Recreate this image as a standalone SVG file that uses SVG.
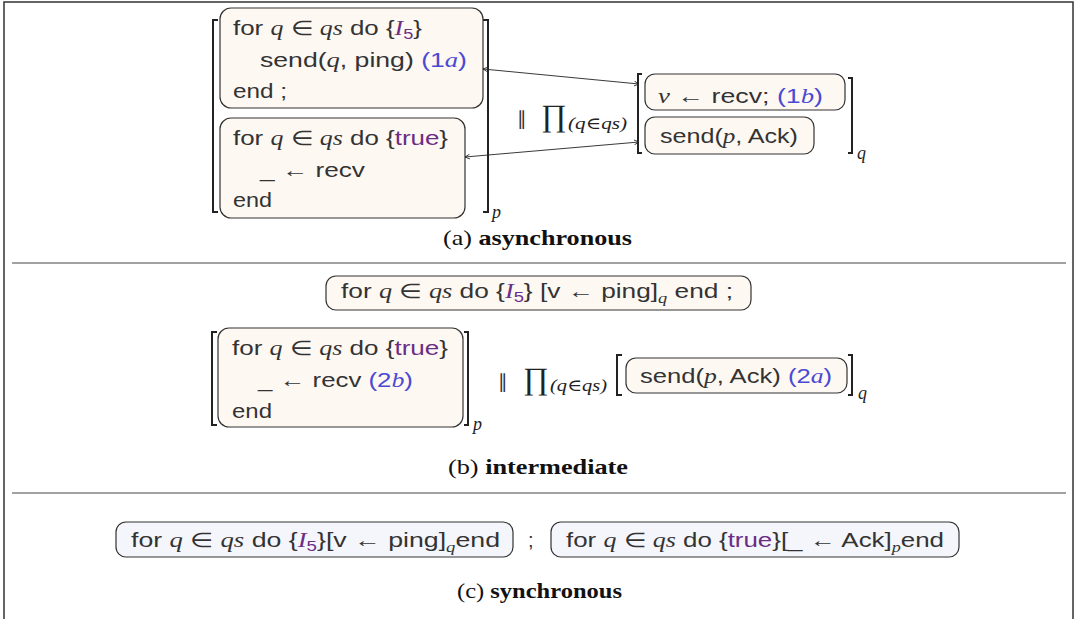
<svg xmlns="http://www.w3.org/2000/svg" width="1076" height="619" viewBox="0 0 1076 619">
<defs>
<style>
.code{font-family:"Liberation Sans","DejaVu Sans",sans-serif;font-size:20px;fill:#333}
.m{font-family:"Liberation Serif",serif;font-style:italic}
.e{font-family:"Liberation Serif",serif}
.pu{fill:#6b2d86}
.bl{fill:#4a4ad2}
.sub{font-size:14px}
.boxA{fill:#fef8f3;stroke:#333;stroke-width:1.2}
.boxC{fill:#f5f6fb;stroke:#333;stroke-width:1.2}
.br{fill:none;stroke:#222;stroke-width:2}
.cap{font-family:"Liberation Serif",serif;font-size:21px;fill:#111}
.big{font-family:"Liberation Serif","DejaVu Serif",serif;fill:#222}
.par{font-family:"DejaVu Sans",sans-serif;font-size:19px;fill:#333}
.idx{font-family:"Liberation Serif",serif;font-style:italic;font-size:18px;fill:#222}
.sep{stroke:#444;stroke-width:1}
.conn{stroke:#222;stroke-width:0.9;fill:none}
</style>
<marker id="ah" viewBox="0 0 10 10" refX="9" refY="5" markerWidth="6" markerHeight="6" orient="auto-start-reverse" markerUnits="userSpaceOnUse">
<path d="M1,1 L9,5 L1,9" fill="none" stroke="#222" stroke-width="1.4"/>
</marker>
</defs>
<rect width="1076" height="619" fill="#fff"/>
<path d="M4,619 V2 H1073 V619" fill="none" stroke="#333" stroke-width="1.5"/>
<line class="sep" x1="12" y1="263" x2="1066" y2="263"/>
<line class="sep" x1="12" y1="493" x2="1066" y2="493"/>

<!-- (a) asynchronous -->
<g id="a-left">
<path class="br" d="M218,20 H213 V212 H218"/>
<path class="br" d="M483,20 H488 V212 H483"/>
<text class="idx" x="492" y="218">p</text>
</g>
<g id="a-box1">
<rect class="boxA" x="220" y="8" width="263" height="100" rx="11"/>
<text class="code" x="233" y="35" textLength="189" lengthAdjust="spacingAndGlyphs">for <tspan class="m">q</tspan> <tspan class="e">∈</tspan> <tspan class="m">qs</tspan> do {<tspan class="m pu">I</tspan><tspan class="pu sub" dy="4">5</tspan><tspan dy="-4">}</tspan></text>
<text class="code" x="260" y="67" textLength="207" lengthAdjust="spacingAndGlyphs">send(<tspan class="m">q</tspan>, ping) <tspan class="bl">(1<tspan class="m">a</tspan>)</tspan></text>
<text class="code" x="233" y="98" textLength="54" lengthAdjust="spacingAndGlyphs">end ;</text>
</g>
<g id="a-box2">
<rect class="boxA" x="220" y="118" width="245" height="100" rx="11"/>
<text class="code" x="233" y="145" textLength="215" lengthAdjust="spacingAndGlyphs">for <tspan class="m">q</tspan> <tspan class="e">∈</tspan> <tspan class="m">qs</tspan> do {<tspan class="pu">true</tspan>}</text>
<text class="code" x="260" y="177" textLength="105" lengthAdjust="spacingAndGlyphs">_ ← recv</text>
<text class="code" x="233" y="207" textLength="39" lengthAdjust="spacingAndGlyphs">end</text>
</g>
<g id="a-prod">
<text class="par" x="517" y="125">∥</text>
<text class="big" x="541" y="126" style="font-size:31px">∏</text>
<text class="big" x="568" y="129" style="font-size:17px;font-style:italic" textLength="59" lengthAdjust="spacingAndGlyphs">(q∈qs)</text>
</g>
<g id="a-right">
<path class="br" d="M642,74 H638 V153 H642"/>
<path class="br" d="M848,78 H852 V153 H848"/>
<text class="idx" x="857" y="159">q</text>
</g>
<g id="a-box3">
<rect class="boxA" x="645" y="74" width="200" height="36" rx="10"/>
<text class="code" x="658" y="103" textLength="165" lengthAdjust="spacingAndGlyphs"><tspan class="m">v</tspan> ← recv; <tspan class="bl">(1<tspan class="m">b</tspan>)</tspan></text>
</g>
<g id="a-box4">
<rect class="boxA" x="645" y="117" width="169" height="37" rx="10"/>
<text class="code" x="660" y="143" textLength="138" lengthAdjust="spacingAndGlyphs">send(<tspan class="m">p</tspan>, Ack)</text>
</g>
<g id="connectors">
<line class="conn" x1="483" y1="69" x2="639" y2="84" marker-start="url(#ah)" marker-end="url(#ah)"/>
<line class="conn" x1="465" y1="157" x2="639" y2="142" marker-start="url(#ah)" marker-end="url(#ah)"/>
</g>
<text class="cap" x="443" y="245" textLength="189" lengthAdjust="spacingAndGlyphs">(a)  <tspan font-weight="bold">asynchronous</tspan></text>

<!-- (b) intermediate -->
<g id="b-box1">
<rect class="boxA" x="326" y="276" width="425" height="34" rx="10"/>
<text class="code" x="341" y="298" textLength="392" lengthAdjust="spacingAndGlyphs">for <tspan class="m">q</tspan> <tspan class="e">∈</tspan> <tspan class="m">qs</tspan> do {<tspan class="m pu">I</tspan><tspan class="pu sub" dy="4">5</tspan><tspan dy="-4">} [v ← ping]</tspan><tspan class="m sub" dy="5">q</tspan><tspan dy="-5"> end ;</tspan></text>
</g>
<g id="b-left">
<path class="br" d="M217,332 H212 V425 H217"/>
<path class="br" d="M464,332 H468 V425 H464"/>
<text class="idx" x="473" y="430">p</text>
</g>
<g id="b-box2">
<rect class="boxA" x="218" y="328" width="245" height="99" rx="11"/>
<text class="code" x="232" y="355" textLength="216" lengthAdjust="spacingAndGlyphs">for <tspan class="m">q</tspan> <tspan class="e">∈</tspan> <tspan class="m">qs</tspan> do {<tspan class="pu">true</tspan>}</text>
<text class="code" x="258" y="387" textLength="155" lengthAdjust="spacingAndGlyphs">_ ← recv <tspan class="bl">(2<tspan class="m">b</tspan>)</tspan></text>
<text class="code" x="232" y="418" textLength="40" lengthAdjust="spacingAndGlyphs">end</text>
</g>
<g id="b-prod">
<text class="par" x="498" y="388">∥</text>
<text class="big" x="523" y="389" style="font-size:31px">∏</text>
<text class="big" x="550" y="391" style="font-size:17px;font-style:italic" textLength="57" lengthAdjust="spacingAndGlyphs">(q∈qs)</text>
</g>
<g id="b-right">
<path class="br" d="M622,355 H617 V395 H622"/>
<path class="br" d="M848,355 H852 V395 H848"/>
<text class="idx" x="858" y="399">q</text>
</g>
<g id="b-box3">
<rect class="boxA" x="626" y="358" width="221" height="35" rx="10"/>
<text class="code" x="640" y="383" textLength="192" lengthAdjust="spacingAndGlyphs">send(<tspan class="m">p</tspan>, Ack) <tspan class="bl">(2<tspan class="m">a</tspan>)</tspan></text>
</g>
<text class="cap" x="448" y="474" textLength="180" lengthAdjust="spacingAndGlyphs">(b)  <tspan font-weight="bold">intermediate</tspan></text>

<!-- (c) synchronous -->
<g id="c-box1">
<rect class="boxC" x="116" y="522" width="397" height="35" rx="10"/>
<text class="code" x="131" y="547" textLength="369" lengthAdjust="spacingAndGlyphs">for <tspan class="m">q</tspan> <tspan class="e">∈</tspan> <tspan class="m">qs</tspan> do {<tspan class="m pu">I</tspan><tspan class="pu sub" dy="4">5</tspan><tspan dy="-4">}[v ← ping]</tspan><tspan class="m sub" dy="5">q</tspan><tspan dy="-5">end</tspan></text>
</g>
<text class="code" x="528" y="547">;</text>
<g id="c-box2">
<rect class="boxC" x="551" y="522" width="408" height="35" rx="10"/>
<text class="code" x="566" y="547" textLength="378" lengthAdjust="spacingAndGlyphs">for <tspan class="m">q</tspan> <tspan class="e">∈</tspan> <tspan class="m">qs</tspan> do {<tspan class="pu">true</tspan>}[_ ← Ack]<tspan class="m sub" dy="5">p</tspan><tspan dy="-5">end</tspan></text>
</g>
<text class="cap" x="457" y="598" textLength="165" lengthAdjust="spacingAndGlyphs">(c) <tspan font-weight="bold">synchronous</tspan></text>
</svg>
